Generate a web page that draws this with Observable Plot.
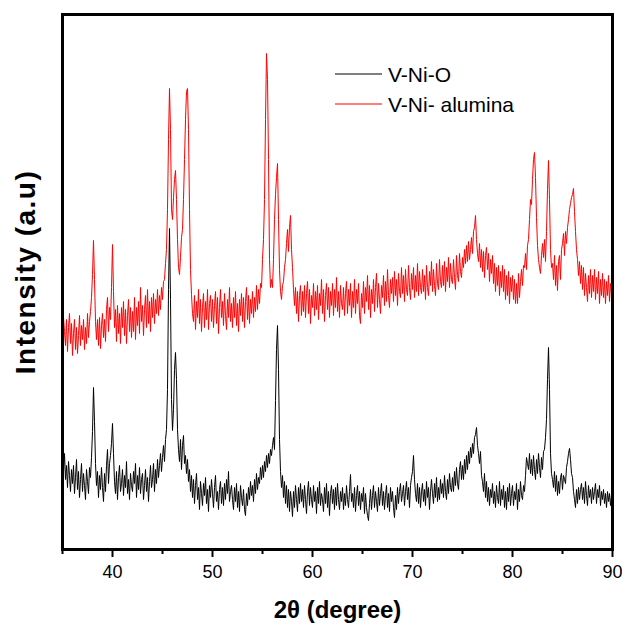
<!DOCTYPE html>
<html>
<head>
<meta charset="utf-8">
<script src="https://cdn.jsdelivr.net/npm/d3@7"></script>
<script src="https://cdn.jsdelivr.net/npm/@observablehq/plot@0.6"></script>
<style>
  html, body { margin: 0; padding: 0; background: #fff; }
  #chart { position: relative; width: 622px; height: 629px; }
</style>
</head>
<body>
<div id="chart"></div>
<script>
// 2θ grid: 35.0 .. 90.0 every 0.1°
const thetaStart = 35.0;
const thetaStep = 0.1;

const seriesNames = ["V-Ni-O", "V-Ni- alumina"];
const seriesColors = ["#000000", "#ff0000"];

const xTicksMajor = [40, 50, 60, 70, 80, 90];
const xTicksMinor = [35, 45, 55, 65, 75, 85];

// V-Ni-O intensity (arbitrary units), one value per 0.1°
const vNiO = [
  92, 78, 96, 70, 84, 62, 88, 74, 58, 80,
  66, 84, 56, 72, 90, 60, 78, 52, 70, 86,
  58, 76, 64, 50, 80, 68, 56, 82, 72, 92,
  118, 162, 128, 86, 64, 78, 52, 74, 60, 82,
  62, 48, 76, 58, 84, 100, 66, 86, 94, 106,
  126, 96, 68, 56, 78, 50, 72, 84, 58, 66,
  80, 54, 74, 62, 88, 56, 70, 50, 76, 64,
  58, 78, 66, 86, 52, 74, 60, 82, 56, 70,
  76, 50, 64, 80, 58, 72, 48, 68, 84, 62,
  70, 86, 58, 80, 66, 90, 72, 84, 96, 78,
  92, 104, 88, 110, 120, 160, 260, 321, 250, 150,
  119, 140, 180, 197, 170, 120, 100, 88, 110, 80,
  104, 114, 86, 94, 76, 90, 68, 80, 58, 74,
  52, 70, 46, 64, 76, 50, 62, 40, 68, 56,
  44, 66, 54, 72, 46, 60, 38, 64, 52, 70,
  56, 42, 62, 74, 48, 58, 40, 60, 68, 46,
  62, 44, 66, 50, 70, 56, 78, 48, 58, 64,
  50, 40, 62, 48, 66, 42, 58, 38, 64, 52,
  44, 60, 40, 34, 56, 44, 62, 50, 68, 54,
  64, 48, 70, 56, 76, 60, 72, 66, 82, 70,
  84, 72, 88, 78, 94, 82, 96, 86, 100, 94,
  104, 112, 100, 149, 200, 224, 180, 110, 78, 62,
  74, 52, 68, 46, 64, 42, 60, 38, 58, 48,
  33, 58, 42, 64, 50, 38, 62, 46, 66, 48,
  60, 42, 64, 50, 36, 58, 68, 44, 62, 50,
  42, 64, 48, 58, 36, 62, 46, 68, 44, 56,
  50, 38, 62, 46, 66, 42, 58, 34, 56, 64,
  46, 60, 40, 62, 44, 66, 50, 40, 58, 48,
  62, 40, 56, 44, 64, 50, 42, 58, 75, 48,
  56, 42, 62, 38, 54, 64, 44, 58, 40, 56,
  48, 62, 36, 56, 42, 34, 29, 46, 60, 40,
  54, 64, 42, 58, 48, 38, 62, 44, 56, 66,
  44, 58, 40, 54, 64, 42, 56, 38, 62, 48,
  58, 42, 32, 54, 40, 62, 46, 58, 66, 48,
  56, 64, 44, 58, 68, 50, 62, 42, 64, 72,
  78, 94, 70, 56, 48, 66, 46, 62, 42, 58,
  66, 48, 60, 44, 68, 52, 62, 40, 58, 70,
  56, 46, 66, 52, 72, 48, 62, 50, 70, 56,
  66, 52, 74, 58, 50, 70, 56, 76, 62, 58,
  72, 58, 78, 64, 82, 66, 60, 80, 88, 70,
  84, 70, 90, 76, 94, 80, 98, 86, 102, 92,
  106, 96, 112, 115, 122, 104, 96, 86, 98, 74,
  68, 58, 76, 52, 68, 48, 62, 44, 60, 52,
  66, 46, 58, 42, 64, 52, 46, 68, 44, 60,
  50, 64, 42, 58, 40, 62, 48, 66, 44, 56,
  64, 44, 58, 50, 66, 40, 60, 48, 68, 54,
  50, 64, 58, 74, 92, 86, 80, 96, 76, 90,
  74, 94, 80, 70, 90, 76, 96, 82, 72, 92,
  80, 98, 100, 112, 130, 170, 202, 160, 96, 76,
  70, 62, 78, 58, 74, 54, 68, 56, 72, 76,
  60, 74, 70, 66, 82, 88, 96, 101, 90, 76,
  72, 58, 50, 42, 60, 46, 62, 50, 60, 66,
  50, 62, 46, 68, 54, 44, 64, 52, 60, 46,
  62, 50, 58, 66, 46, 60, 52, 64, 44, 58,
  50, 60, 46, 56, 42, 58, 48, 56, 44, 54,
  52
];

// V-Ni- alumina intensity (arbitrary units, offset pattern), one value per 0.1°
const vNiAlumina = [
  269, 232, 218, 204, 230, 198, 222, 236, 206, 226,
  194, 216, 230, 200, 222, 196, 214, 234, 204, 224,
  210, 230, 200, 222, 206, 236, 212, 228, 238, 252,
  275, 309, 270, 228, 210, 230, 204, 232, 201, 224,
  236, 212, 230, 208, 240, 252, 218, 242, 230, 262,
  305, 258, 222, 240, 208, 244, 216, 236, 206, 242,
  222, 248, 214, 240, 206, 234, 250, 218, 242, 212,
  238, 218, 252, 210, 242, 224, 248, 216, 262, 228,
  244, 214, 240, 254, 222, 260, 226, 248, 218, 252,
  232, 256, 226, 250, 236, 260, 234, 254, 240, 262,
  250, 268, 270, 286, 300, 340, 410, 461, 420, 340,
  330, 352, 370, 379, 350, 310, 282, 275, 292, 312,
  320, 350, 390, 430, 458, 461, 420, 340, 280, 255,
  236, 228, 254, 220, 248, 232, 260, 226, 250, 218,
  242, 256, 222, 248, 230, 260, 220, 246, 254, 228,
  250, 222, 244, 258, 226, 252, 216, 242, 260, 232,
  248, 224, 256, 234, 220, 250, 232, 262, 228, 246,
  222, 252, 232, 258, 224, 246, 218, 250, 234, 256,
  228, 252, 222, 248, 262, 230, 254, 226, 250, 236,
  258, 232, 252, 238, 264, 240, 260, 246, 266, 262,
  290, 310, 350, 430, 496, 470, 390, 290, 262, 270,
  262, 290, 330, 355, 372, 386, 330, 280, 258, 250,
  264, 268, 282, 290, 306, 320, 298, 322, 334, 300,
  282, 260, 244, 262, 236, 258, 228, 254, 264, 234,
  258, 238, 264, 232, 256, 268, 236, 260, 226, 254,
  242, 266, 234, 258, 240, 264, 230, 256, 244, 270,
  236, 260, 228, 254, 266, 240, 262, 232, 258, 244,
  266, 234, 260, 242, 272, 238, 258, 232, 264, 246,
  240, 262, 234, 256, 268, 236, 260, 244, 266, 232,
  258, 242, 270, 236, 260, 246, 266, 234, 226, 256,
  242, 268, 236, 262, 248, 274, 240, 264, 232, 260,
  246, 270, 238, 262, 276, 242, 266, 250, 236, 264,
  252, 274, 244, 268, 248, 280, 254, 242, 270, 256,
  272, 248, 278, 254, 270, 244, 276, 258, 252, 282,
  256, 274, 248, 280, 260, 254, 284, 262, 250, 276,
  260, 282, 252, 274, 258, 286, 254, 278, 262, 256,
  280, 258, 274, 250, 284, 262, 254, 278, 264, 288,
  258, 280, 264, 254, 286, 266, 260, 290, 268, 262,
  284, 264, 288, 258, 282, 268, 292, 262, 286, 270,
  266, 290, 272, 260, 294, 274, 268, 296, 278, 272,
  292, 282, 300, 286, 304, 288, 308, 290, 300, 312,
  296, 318, 322, 334, 310, 296, 288, 306, 282, 300,
  278, 298, 272, 294, 302, 280, 296, 268, 290, 276,
  294, 266, 286, 258, 282, 264, 284, 254, 278, 262,
  284, 258, 280, 250, 274, 254, 278, 246, 272, 258,
  274, 250, 270, 246, 266, 246, 276, 252, 268, 280,
  264, 284, 282, 296, 280, 304, 310, 330, 350, 345,
  370, 390, 397, 372, 332, 304, 290, 282, 276, 294,
  306, 292, 310, 288, 318, 360, 389, 350, 300, 282,
  286, 270, 294, 264, 284, 259, 288, 294, 270, 300,
  306, 316, 294, 318, 306, 322, 330, 340, 346, 352,
  355, 361, 338, 318, 300, 290, 274, 288, 266, 284,
  260, 282, 254, 276, 262, 248, 274, 256, 280, 252,
  274, 258, 280, 250, 272, 256, 278, 246, 270, 254,
  276, 252, 270, 246, 268, 254, 274, 248, 266, 256,
  262
];

const xLabel = "2θ (degree)";
const yLabel = "Intensity (a.u)";

const rows = [];
[vNiO, vNiAlumina].forEach((vals, s) => {
  vals.forEach((v, i) => rows.push({
    series: seriesNames[s],
    theta: +(thetaStart + i * thetaStep).toFixed(2),
    intensity: v
  }));
});

const W = 622, H = 629;
const mL = 62, mR = 10, mT = 14, mB = 80;
const tickFont = "'Liberation Sans Narrow', 'Arial Narrow', 'Liberation Sans', Arial, sans-serif";
const boldFont = "'Liberation Sans', Arial, Helvetica, sans-serif";

const chart = Plot.plot({
  width: W,
  height: H,
  marginLeft: mL,
  marginRight: mR,
  marginTop: mT,
  marginBottom: mB,
  style: { background: "#fff", color: "#000" },
  x: { domain: [35, 90] },
  y: { domain: [0, 535], axis: null },
  marks: [
    Plot.line(rows.filter(d => d.series === seriesNames[0]), {
      x: "theta", y: "intensity", stroke: seriesColors[0], strokeWidth: 1
    }),
    Plot.line(rows.filter(d => d.series === seriesNames[1]), {
      x: "theta", y: "intensity", stroke: seriesColors[1], strokeWidth: 1
    }),
    Plot.frame({ stroke: "#000", strokeWidth: 3 }),
    Plot.axisX({
      ticks: xTicksMinor, tickSize: 5, strokeWidth: 2, tickFormat: () => "", label: null
    }),
    Plot.axisX({
      ticks: xTicksMajor, tickSize: 8, strokeWidth: 2, tickPadding: 8,
      tickFormat: d => String(d), label: null,
      fontSize: 18, fontFamily: tickFont
    }),
    Plot.text([xLabel], {
      frameAnchor: "bottom", dy: 68, text: d => d,
      fontSize: 24, fontWeight: "bold", fontFamily: boldFont, fill: "#000"
    })
  ]
});

document.getElementById("chart").appendChild(chart);

const svg = d3.select(chart);

// y-axis title
svg.append("text")
  .attr("transform", "translate(35,272) rotate(-90)")
  .attr("text-anchor", "middle")
  .attr("font-family", boldFont)
  .attr("font-weight", "bold")
  .attr("font-size", 28)
  .attr("letter-spacing", "1.5px")
  .attr("fill", "#000")
  .text(yLabel);

// legend inside the plot area, top-right
const lg = svg.append("g")
  .attr("font-family", "'Liberation Sans', Arial, sans-serif")
  .attr("font-size", 21)
  .attr("text-anchor", "start");
seriesNames.forEach((name, i) => {
  const yy = 74 + i * 30;
  lg.append("line").attr("x1", 335).attr("x2", 382).attr("y1", yy).attr("y2", yy)
    .attr("stroke", seriesColors[i]).attr("stroke-width", 1.2);
  lg.append("text").attr("x", 388).attr("y", yy).attr("dy", "0.36em")
    .attr("text-anchor", "start")
    .attr("fill", "#000").text(name);
});
</script>
</body>
</html>
